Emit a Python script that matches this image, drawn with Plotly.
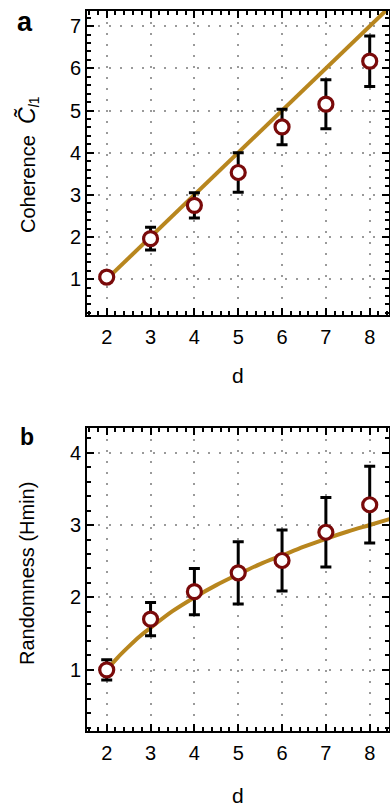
import plotly.graph_objects as go
from plotly.subplots import make_subplots

# ---- data ----
d_vals = [2, 3, 4, 5, 6, 7, 8]

coh_mean = [1.05, 1.96, 2.75, 3.53, 4.61, 5.15, 6.17]
coh_err = [0.12, 0.27, 0.30, 0.47, 0.42, 0.58, 0.60]
coh_line_d = [2, 8.5]
coh_line_y = [1.0, 7.5]

rnd_mean = [1.00, 1.70, 2.08, 2.34, 2.51, 2.90, 3.28]
rnd_err = [0.14, 0.23, 0.32, 0.43, 0.42, 0.48, 0.53]
rnd_curve_d = [2, 2.25, 2.5, 2.75, 3, 3.5, 4, 4.5, 5, 5.5, 6, 6.5, 7, 7.5, 8, 8.5]
rnd_curve_y = [1.00, 1.17, 1.32, 1.46, 1.58, 1.81, 2.00, 2.17, 2.32, 2.46, 2.58, 2.70, 2.81, 2.91, 3.00, 3.09]

x_ticks = [2, 3, 4, 5, 6, 7, 8]
ya_ticks = [1, 2, 3, 4, 5, 6, 7]
yb_ticks = [1, 2, 3, 4]

# ---- style ----
W, H = 390, 806
LINE_COL = "#B8861E"
MK_COL = "#7A0A0A"
FONT = "Liberation Sans, Arial, sans-serif"

fig = make_subplots(rows=2, cols=1)

def add_panel(row, dmean, err, ld, ly, shape):
    fig.add_trace(go.Scatter(x=ld, y=ly, mode="lines",
                             line=dict(color=LINE_COL, width=4, shape=shape),
                             showlegend=False, hoverinfo="skip"), row=row, col=1)
    fig.add_trace(go.Scatter(x=d_vals, y=dmean, mode="markers",
                             marker=dict(symbol="circle", size=14, color="white",
                                         line=dict(color=MK_COL, width=3.2)),
                             error_y=dict(type="data", array=err, visible=True,
                                          color="black", thickness=3, width=5.5),
                             showlegend=False, cliponaxis=False), row=row, col=1)

add_panel(1, coh_mean, coh_err, coh_line_d, coh_line_y, "linear")
add_panel(2, rnd_mean, rnd_err, rnd_curve_d, rnd_curve_y, "spline")

def px_x(p):
    return p / W

def px_y(p):
    return 1 - p / H

axis_common = dict(
    showline=True, linecolor="black", linewidth=2, mirror="allticks",
    ticks="inside", ticklen=7, tickwidth=2, tickcolor="black",
    showgrid=True, gridcolor="#9a9a9a", griddash="2px,9px", gridwidth=2,
    zeroline=False,
    tickfont=dict(family=FONT, size=20, color="black"),
    minor=dict(ticks="inside", ticklen=4, tickwidth=1.5, tickcolor="black",
               dtick=0.2, showgrid=False),
)

fig.update_xaxes(**axis_common, range=[1.55, 8.44], tickvals=x_ticks, ticklabelstandoff=3)
fig.update_yaxes(**axis_common, ticklabelstandoff=0)
fig.update_yaxes(range=[0.15, 7.36], tickvals=ya_ticks, row=1, col=1)
fig.update_yaxes(range=[0.155, 4.34], tickvals=yb_ticks, row=2, col=1)

fig.update_layout(
    width=W, height=H,
    margin=dict(l=0, r=0, t=0, b=0),
    plot_bgcolor="white", paper_bgcolor="white",
    xaxis=dict(domain=[px_x(87), px_x(389)]),
    xaxis2=dict(domain=[px_x(87), px_x(389)]),
    yaxis=dict(domain=[px_y(315), px_y(11)]),
    yaxis2=dict(domain=[px_y(731), px_y(428)]),
    font=dict(family=FONT, color="black"),
)

ann = []
# panel labels
ann.append(dict(text="<b>a</b>", x=px_x(25), y=px_y(22), xref="paper", yref="paper",
                showarrow=False, font=dict(size=27, family=FONT), xanchor="center", yanchor="middle"))
ann.append(dict(text="<b>b</b>", x=px_x(27), y=px_y(437), xref="paper", yref="paper",
                showarrow=False, font=dict(size=23, family=FONT), xanchor="center", yanchor="middle"))
# x titles
ann.append(dict(text="d", x=px_x(238), y=px_y(376), xref="paper", yref="paper",
                showarrow=False, font=dict(size=21, family=FONT), xanchor="center", yanchor="middle"))
ann.append(dict(text="d", x=px_x(238), y=px_y(795), xref="paper", yref="paper",
                showarrow=False, font=dict(size=21, family=FONT), xanchor="center", yanchor="middle"))
# y titles
ann.append(dict(text="Coherence  <span style='font-size:23px'><i>C\u0303</i></span><sub><i>l</i>1</sub>",
                x=px_x(28), y=px_y(165),
                xref="paper", yref="paper", textangle=-90,
                showarrow=False, font=dict(size=20, family=FONT), xanchor="center", yanchor="middle"))
ann.append(dict(text="Randomness (Hmin)", x=px_x(27), y=px_y(574),
                xref="paper", yref="paper", textangle=-90,
                showarrow=False, font=dict(size=20, family=FONT), xanchor="center", yanchor="middle"))
fig.update_layout(annotations=ann)

fig.write_html("out.html", config={"displayModeBar": False},
               post_script="document.body.style.margin='0';document.body.style.overflow='hidden';")
